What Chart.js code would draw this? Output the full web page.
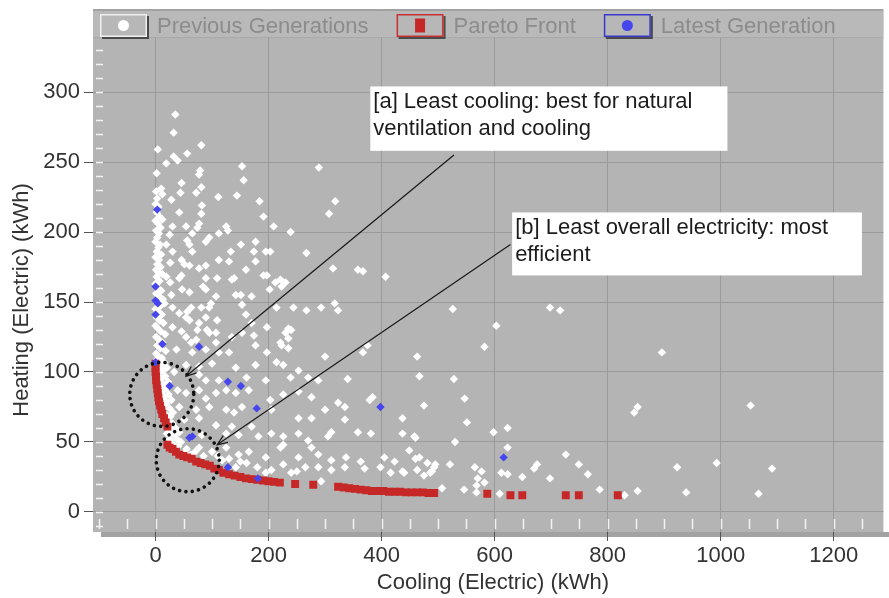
<!DOCTYPE html>
<html>
<head>
<meta charset="utf-8">
<script src="https://cdn.jsdelivr.net/npm/chart.js@4/dist/chart.umd.min.js"></script>
<style>
html, body { margin: 0; padding: 0; background: #fff; }
</style>
</head>
<body>
<canvas id="chart" width="889" height="598"></canvas>
<script>
// axis ticks
const xTicks = [0, 200, 400, 600, 800, 1000, 1200];
const yTicks = [0, 50, 100, 150, 200, 250, 300];

// [cooling kWh, heating kWh]
const previousGenerations = [
    [35,284],[32,271],[4,259],[81,262],[56,256],[32,254],[39,251],[19,249],[2,242],[79,244],[77,241],[153,247],[156,237],
    [46,235],[81,232],[44,228],[72,228],[144,226],[111,225],[10,231],[12,227],[28,223],[82,219],[184,222],[42,214],[81,213],
    [191,211],[12,209],[77,206],[30,204],[54,204],[74,203],[125,204],[128,201],[209,204],[239,200],[112,199],[65,199],[25,198],
    [95,196],[89,193],[56,194],[60,191],[151,191],[177,193],[195,186],[203,186],[174,186],[133,186],[19,191],[30,186],[65,186],
    [46,180],[112,180],[130,179],[177,179],[51,177],[77,174],[160,173],[60,176],[89,176],[26,178],[19,168],[26,164],[42,167],
    [46,169],[89,167],[109,167],[135,166],[139,167],[191,169],[197,169],[212,164],[221,166],[230,164],[223,161],[202,159],[84,161],
    [89,159],[60,157],[47,159],[28,155],[151,155],[170,154],[63,146],[81,146],[95,146],[107,154],[142,155],[153,148],[214,146],
    [244,146],[16,149],[30,146],[42,142],[54,139],[89,139],[109,137],[160,141],[170,135],[197,132],[235,131],[30,132],[46,129],
    [74,130],[95,128],[135,125],[153,128],[174,126],[230,128],[240,130],[63,121],[107,121],[177,119],[223,119],[37,116],[130,114],
    [197,114],[289,246],[318,222],[307,213],[267,185],[358,173],[367,172],[314,174],[407,168],
    [98,149],[267,144],[293,146],[317,149],[323,144],[526,145],[56,143],[60,137],[77,135],[91,130],[107,128],[221,121],[235,124],
    [235,117],[300,111],[367,114],[375,119],[463,111],[582,118],[54,125],[72,123],[65,114],[89,116],[112,114],
    [54,105],[77,104],[100,106],[142,103],[177,105],[214,107],[226,105],[253,101],[33,100],[77,98],[89,94],[112,94],[161,96],
    [195,94],[239,96],[270,96],[288,94],[340,95],[467,97],[528,95],[39,87],[54,85],[77,87],[89,81],[107,85],[125,87],[142,85],
    [165,87],[203,80],[226,84],[253,86],[276,82],[323,78],[335,75],[379,80],[384,82],[475,76],[547,81],[42,75],[72,73],[95,75],
    [125,73],[139,71],[153,75],[205,73],[253,67],[276,67],[300,73],[335,66],[437,67],[551,64],[598,57],[51,66],[77,67],[107,62],
    [135,61],[170,61],[42,57],[82,55],[125,56],[147,55],[182,54],[205,56],[226,54],[253,56],[270,51],[305,54],[311,57],[358,57],
    [381,56],[458,54],[530,50],[77,46],[100,43],[125,46],[147,41],[165,43],[195,39],[221,46],[226,48],[253,39],[276,46],[288,41],
    [311,37],[337,39],[363,36],[405,39],[423,36],[449,44],[467,39],[481,35],[493,32],[565,32],[577,29],[582,21],[118,37],[142,32],
    [161,35],[205,30],[226,34],[240,28],[265,32],[288,32],[311,30],[335,32],[370,31],[398,32],[416,28],[440,28],[463,30],[486,28],
    [293,22],[507,17],[546,16],[568,14],
    [698,146],[716,144],[603,133],[896,114],[853,75],[847,71],[1053,76],[623,60],[437,56],[460,53],[623,46],[726,41],[460,38],
    [495,34],[521,34],[570,24],[568,19],[612,28],[623,27],[649,25],[670,31],[675,34],[698,24],[749,34],[765,27],[786,16],[853,15],
    [923,32],[939,14],[993,35],[1067,13],[1091,31],[489,29],[475,26],[437,29],[609,13],[830,12],
    [1,229],[3,224],[0,220],[5,218],[2,214],[7,211],[0,208],[4,206],[9,203],[1,201],[6,199],[3,196],[0,193],[8,191],[5,189],
    [2,186],[10,184],[0,182],[6,180],[3,177],[9,175],[1,173],[5,171],[12,170],[2,168],[7,165],[0,163],[4,160],[10,158],[1,156],
    [6,154],[13,152],[3,150],[8,147],[0,145],[5,143],[11,141],[2,139],[7,137],[14,135],[0,133],[4,131],[9,129],[17,127],[1,125],
    [6,123],[12,121],[3,119],[8,117],[18,115],[1,113],[5,111],[11,110],[15,107],[3,109],[8,104],[20,103],[13,101],[6,99],[17,97],
    [10,95],[22,93],[14,91],[19,88],[12,86],[23,84],[16,82],[28,80],[20,78],[14,76],[25,74],[31,71],[18,70],[26,68],[22,65],
    [30,63],[35,60],[27,58],[20,56],[33,55],[38,52],[25,52],[30,49],[45,50],[40,47],[55,45],[50,42],[62,41],[70,43],[85,40],
    [110,40],[130,38],[150,36],[180,32],[250,29],[195,28]
];

const paretoFront = [
    [0,106],[0,103],[0,100],[1,97],[1,94],[2,91],[3,88],[4,85],[5,82],[6,79],[8,76],[10,73],[12,70],[15,67],[18,64],[21,61],
    [21,48],[25,46],[30,45],[36,43],[42,41],[49,40],[56,39],[64,38],[72,36],[80,35],[88,34],[96,33],[104,31],[112,30],[120,28],
    [130,27],[140,26],[150,25],[160,24],[170,23.5],[180,23],[190,22.5],[200,22],[210,21.5],[220,21],[247,20],[279,19.5],
    [323,18],[333,17.5],[343,17],[353,16.5],[363,16],[373,15.5],[383,15],[393,15],[403,15],[413,14.5],[423,14.5],[433,14.5],
    [443,14],[453,14],[463,14],[473,14],[483,13.5],[493,13.5],[587,13],[628,12],[649,12],[726,12],[749,12],[818,12]
];

const latestGeneration = [
    [3,216],[0,161],[0,151],[4,149],[0,141],[12,120],[77,118],[0,107],[25,90],[128,93],[151,90],[179,74],[60,53],[65,54],
    [128,32],[181,24],[398,75],[616,39]
];

// callouts: box corners, arrow tail/head and ring centre in data units
const callouts = [
    { lines: ['[a] Least cooling: best for natural', 'ventilation and cooling'],
      box: [380, 304, 1012, 258], tail: [528, 255], head: [54, 97], ring: [11, 84], ringR: 32 },
    { lines: ['[b] Least overall electricity: most', 'efficient'],
      box: [631, 214, 1250, 169], tail: [628, 191], head: [109, 48], ring: [57, 37], ringR: 31.5 }
];

const FONT = '"Liberation Sans", Arial, sans-serif';
const toPoints = arr => arr.map(([x, y]) => ({ x, y }));

const decor = {
    id: 'decor',
    beforeDraw(chart) {
        const { ctx, chartArea: a } = chart;
        ctx.save();
        ctx.fillStyle = '#b4b4b4';
        ctx.fillRect(a.left, a.top, a.right - a.left, a.bottom - a.top);
        ctx.fillStyle = '#a2a2a2';
        ctx.fillRect(a.left, a.top - 1, a.right - a.left, 2);
        ctx.fillRect(a.left + 8, a.bottom, a.right - a.left, 5);
        ctx.restore();
    },
    beforeDatasetsDraw(chart) {
        const { ctx, chartArea: a, scales: { x, y } } = chart;
        ctx.save();
        ctx.strokeStyle = '#f2f2f2';
        ctx.lineWidth = 1.5;
        ctx.beginPath();
        for (let v = -100; v <= 1250; v += 50) {
            const px = Math.round(x.getPixelForValue(v)) + 0.5;
            ctx.moveTo(px, a.bottom - 13);
            ctx.lineTo(px, a.bottom - 3);
        }
        for (let v = -10; v <= 350; v += 10) {
            const py = Math.round(y.getPixelForValue(v)) + 0.5;
            ctx.moveTo(a.left + 3, py);
            ctx.lineTo(a.left + 10, py);
        }
        ctx.stroke();
        ctx.restore();
    },
    afterDatasetsDraw(chart) {
        const { ctx, chartArea: a, scales: { x, y } } = chart;
        ctx.save();

        // legend strip
        ctx.fillStyle = '#b9b9b9';
        ctx.fillRect(a.left, a.top + 1, a.right - a.left, 26);
        ctx.fillStyle = '#a9a9a9';
        ctx.fillRect(a.left, a.top + 27, a.right - a.left, 1);

        const items = [
            { ds: 0, border: '#f0f0f0', color: '#ffffff', shape: 'dot' },
            { ds: 1, border: '#c93030', color: '#c62828', shape: 'square' },
            { ds: 2, border: '#3838cc', color: '#4646ee', shape: 'dot' }
        ];
        ctx.font = '22px ' + FONT;
        ctx.textBaseline = 'middle';
        let lx = 100;
        const ly = a.top + 4;
        items.forEach(it => {
            const w = 47, h = 23;
            ctx.fillStyle = '#4a4a4a';
            ctx.fillRect(lx + 2, ly + 2, w, h);
            ctx.fillStyle = '#b7b7b7';
            ctx.fillRect(lx, ly, w, h);
            ctx.strokeStyle = it.border;
            ctx.lineWidth = 1.5;
            ctx.strokeRect(lx + 0.75, ly + 0.75, w - 1.5, h - 1.5);
            ctx.fillStyle = it.color;
            if (it.shape === 'dot') {
                ctx.beginPath();
                ctx.arc(lx + w / 2, ly + h / 2, 5.5, 0, Math.PI * 2);
                ctx.fill();
            } else {
                ctx.fillRect(lx + w / 2 - 5, ly + h / 2 - 7, 10, 14);
            }
            const label = chart.data.datasets[it.ds].label;
            ctx.fillStyle = '#8c8c8c';
            ctx.fillText(label, lx + w + 10, ly + h / 2 + 1);
            lx += w + 10 + ctx.measureText(label).width + 28;
        });

        // callouts
        callouts.forEach(c => {
            const bx1 = x.getPixelForValue(c.box[0]), by1 = y.getPixelForValue(c.box[1]);
            const bx2 = x.getPixelForValue(c.box[2]), by2 = y.getPixelForValue(c.box[3]);
            ctx.fillStyle = '#ffffff';
            ctx.fillRect(bx1, by1, bx2 - bx1, by2 - by1);
            ctx.fillStyle = '#1c1c1c';
            ctx.font = '22px ' + FONT;
            ctx.textBaseline = 'middle';
            c.lines.forEach((t, i) => ctx.fillText(t, bx1 + 3, by1 + 16 + i * 27));

            const tx = x.getPixelForValue(c.tail[0]), ty = y.getPixelForValue(c.tail[1]);
            const hx = x.getPixelForValue(c.head[0]), hy = y.getPixelForValue(c.head[1]);
            const ang = Math.atan2(hy - ty, hx - tx);
            ctx.strokeStyle = '#1a1a1a';
            ctx.lineWidth = 1.2;
            ctx.setLineDash([]);
            ctx.beginPath();
            ctx.moveTo(tx, ty);
            ctx.lineTo(hx, hy);
            ctx.moveTo(hx - 11 * Math.cos(ang - 0.38), hy - 11 * Math.sin(ang - 0.38));
            ctx.lineTo(hx, hy);
            ctx.lineTo(hx - 11 * Math.cos(ang + 0.38), hy - 11 * Math.sin(ang + 0.38));
            ctx.stroke();

            ctx.strokeStyle = '#111111';
            ctx.lineWidth = 3.6;
            ctx.lineCap = 'round';
            ctx.setLineDash([0.01, 6.4]);
            ctx.beginPath();
            ctx.arc(x.getPixelForValue(c.ring[0]), y.getPixelForValue(c.ring[1]), c.ringR, 0, Math.PI * 2);
            ctx.stroke();
            ctx.setLineDash([]);
            ctx.lineCap = 'butt';
        });

        // axis titles
        ctx.fillStyle = '#333333';
        ctx.font = '22px ' + FONT;
        ctx.textAlign = 'center';
        ctx.textBaseline = 'middle';
        ctx.fillText(chart.options.scales.x.title.text, 493, 583);
        ctx.translate(22, 300);
        ctx.rotate(-Math.PI / 2);
        ctx.fillText(chart.options.scales.y.title.text, 0, 0);
        ctx.restore();
    }
};

const noPad = s => { s.paddingTop = 0; s.paddingBottom = 0; s.paddingLeft = 0; s.paddingRight = 0; };

new Chart(document.getElementById('chart'), {
    type: 'scatter',
    data: {
        datasets: [
            {
                label: 'Previous Generations',
                data: toPoints(previousGenerations),
                pointStyle: 'rectRot',
                pointRadius: 4.2,
                backgroundColor: '#ffffff',
                borderColor: '#ffffff',
                borderWidth: 0,
                order: 3
            },
            {
                label: 'Pareto Front',
                data: toPoints(paretoFront),
                pointStyle: 'rect',
                pointRadius: 5.6,
                backgroundColor: '#c62828',
                borderColor: '#c62828',
                borderWidth: 0,
                order: 2
            },
            {
                label: 'Latest Generation',
                data: toPoints(latestGeneration),
                pointStyle: 'rectRot',
                pointRadius: 4.2,
                backgroundColor: '#4646ee',
                borderColor: '#4646ee',
                borderWidth: 0,
                order: 1
            }
        ]
    },
    options: {
        responsive: false,
        animation: false,
        layout: { padding: { top: 10, right: 0, left: 0, bottom: 0 } },
        plugins: {
            legend: { display: false },
            tooltip: { enabled: false }
        },
        scales: {
            x: {
                type: 'linear',
                min: -110.7,
                max: 1288,
                afterBuildTicks: s => { s.ticks = xTicks.map(v => ({ value: v })); },
                afterFit: s => { s.height = 66; noPad(s); },
                title: { display: false, text: 'Cooling (Electric) (kWh)' },
                border: { display: false },
                grid: { color: '#9a9a9a', tickColor: '#555555', tickLength: 9 },
                ticks: { color: '#333333', padding: 2, font: { family: FONT, size: 22 }, callback: v => String(v) }
            },
            y: {
                type: 'linear',
                min: -14.3,
                max: 358.6,
                afterBuildTicks: s => { s.ticks = yTicks.map(v => ({ value: v })); },
                afterFit: s => { s.width = 93; noPad(s); },
                title: { display: false, text: 'Heating (Electric) (kWh)' },
                border: { display: false },
                grid: { color: '#9a9a9a', tickColor: '#555555', tickLength: 9 },
                ticks: { color: '#333333', padding: 4, font: { family: FONT, size: 22 }, callback: v => String(v) }
            }
        }
    },
    plugins: [decor]
});
</script>
</body>
</html>
